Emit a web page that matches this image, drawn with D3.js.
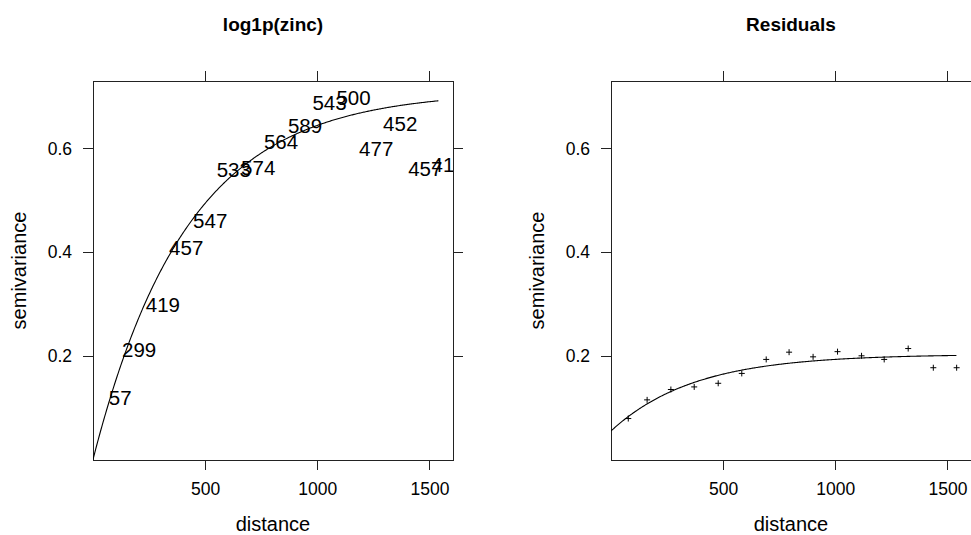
<!DOCTYPE html>
<html>
<head>
<meta charset="utf-8">
<script src="https://cdn.jsdelivr.net/npm/d3@7"></script>
<style>
  body { margin: 0; background: #fff; }
  svg text { font-family: "Liberation Sans", Arial, Helvetica, sans-serif; fill: #000; }
</style>
</head>
<body>
<svg id="chart" width="971" height="535"></svg>
<script>
// Sample variogram lag distances (shared by both panels)
const distances = [77, 161, 267, 371, 478, 583, 692, 794, 901, 1010, 1117, 1218, 1325, 1437, 1541];
// Semivariance of log1p(zinc) and number of point pairs per lag
const zincGamma = [0.120, 0.211, 0.298, 0.408, 0.460, 0.560, 0.563, 0.614, 0.643, 0.689, 0.698, 0.599, 0.648, 0.561, 0.569];
const zincPairs = [57, 299, 419, 457, 547, 533, 574, 564, 589, 543, 500, 477, 452, 457, 415];
// Semivariance of the regression residuals
const residGamma = [0.079, 0.115, 0.135, 0.140, 0.147, 0.166, 0.193, 0.207, 0.198, 0.208, 0.200, 0.193, 0.214, 0.177, 0.177];

// Fitted exponential variogram models
const zincModel = { nugget: 0, psill: 0.71, range: 420 };
const residModel = { nugget: 0.055, psill: 0.148, range: 370 };

// Axis limits and ticks
const xLimits = [0, 1605];
const yLimits = [0, 0.73];
const xTicks = [500, 1000, 1500];
const yTicks = [0.2, 0.4, 0.6];

const svg = d3.select("#chart");
const panelW = 360, panelTop = 81, panelBottom = 460;
const tickLen = 10;

function expModel(m, h) { return m.nugget + m.psill * (1 - Math.exp(-h / m.range)); }

function drawPanel(opts) {
  const { id, left, title, gammas, model, labels } = opts;
  const x = d3.scaleLinear().domain(xLimits).range([left, left + panelW]);
  const y = d3.scaleLinear().domain(yLimits).range([459.5, panelTop]);
  const g = svg.append("g");

  g.append("clipPath").attr("id", id).append("rect")
    .attr("x", left).attr("y", panelTop).attr("width", panelW).attr("height", panelBottom - panelTop);

  // Axes (lattice style: labels bottom/left, bare ticks top/right)
  const axes = [
    { ax: d3.axisBottom(x).tickValues(xTicks).tickSize(tickLen).tickPadding(13).tickFormat(d3.format("d")), t: `translate(0,${panelBottom})` },
    { ax: d3.axisTop(x).tickValues(xTicks).tickSize(tickLen).tickFormat(""), t: `translate(0,${panelTop})` },
    { ax: d3.axisLeft(y).tickValues(yTicks).tickSize(tickLen).tickPadding(11).tickFormat(d3.format(".1f")), t: `translate(${left},0)` },
    { ax: d3.axisRight(y).tickValues(yTicks).tickSize(tickLen).tickFormat(""), t: `translate(${left + panelW},0)` }
  ];
  axes.forEach(a => {
    const ag = g.append("g").attr("transform", a.t).call(a.ax);
    ag.select(".domain").remove();
    ag.selectAll("line").attr("stroke", "#222").attr("stroke-width", 1).attr("shape-rendering", "crispEdges");
    ag.selectAll("text").attr("font-size", 17.5).attr("font-family", null).attr("fill", "#000");
  });

  // Frame
  g.append("rect")
    .attr("x", left).attr("y", panelTop).attr("width", panelW).attr("height", panelBottom - panelTop)
    .attr("fill", "none").attr("stroke", "#222").attr("stroke-width", 1).attr("shape-rendering", "crispEdges");

  const inner = g.append("g").attr("clip-path", `url(#${id})`);

  // Model curve
  const hs = d3.range(0, d3.max(distances) + 0.1, 4);
  inner.append("path")
    .datum(hs)
    .attr("d", d3.line().x(h => x(h)).y(h => y(expModel(model, h))))
    .attr("fill", "none").attr("stroke", "#000").attr("stroke-width", 1.1);

  const pts = distances.map((d, i) => ({ d, g: gammas[i], n: labels ? labels[i] : null }));
  if (labels) {
    inner.selectAll("text.np").data(pts).join("text")
      .attr("class", "np")
      .attr("x", p => x(p.d) + 10)
      .attr("y", p => y(p.g))
      .attr("dy", "0.36em")
      .attr("text-anchor", "middle")
      .attr("font-size", 20.5)
      .text(p => p.n);
  } else {
    inner.selectAll("path.pt").data(pts).join("path")
      .attr("class", "pt")
      .attr("transform", p => `translate(${x(p.d)},${y(p.g)})`)
      .attr("d", "M-3,0H3M0,-3V3")
      .attr("stroke", "#000").attr("stroke-width", 1);
  }

  // Title and axis titles
  const cx = left + panelW / 2;
  g.append("text").attr("x", cx).attr("y", 31).attr("text-anchor", "middle")
    .attr("font-size", 19).attr("font-weight", "bold").text(title);
  g.append("text").attr("x", cx).attr("y", 531).attr("text-anchor", "middle")
    .attr("font-size", 20).text("distance");
  const ly = (panelTop + panelBottom) / 2;
  g.append("text")
    .attr("transform", `translate(${left - 67},${ly}) rotate(-90)`)
    .attr("text-anchor", "middle").attr("font-size", 20).text("semivariance");
}

drawPanel({ id: "clipZinc", left: 93, title: "log1p(zinc)", gammas: zincGamma, model: zincModel, labels: zincPairs });
drawPanel({ id: "clipResid", left: 611, title: "Residuals", gammas: residGamma, model: residModel, labels: null });
</script>
</body>
</html>
